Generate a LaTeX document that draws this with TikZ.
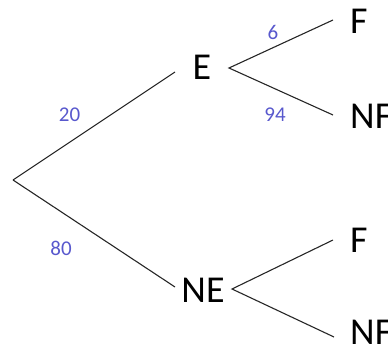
\documentclass[tikz,border=0pt]{standalone}
\usepackage{fontspec}
\setmainfont{Carlito}
\definecolor{lbl}{RGB}{88,88,205}
\begin{document}
\begin{tikzpicture}[x=1pt,y=1pt,
  big/.style={font=\fontsize{38}{40}\selectfont, inner sep=0pt, text=black},
  num/.style={font=\fontsize{21}{23}\selectfont, inner sep=0pt, text=lbl},
  br/.style={draw=black!85, line width=1.1pt}]
\useasboundingbox (0,0) rectangle (388,349);
\clip (0,0) rectangle (388,349);
% named points
\coordinate (root) at (13,169);
\coordinate (Ein) at (175,277);
\coordinate (Eout) at (229,281);
\coordinate (F1in) at (333,329);
\coordinate (NF1in) at (333,234);
\coordinate (NEin) at (175,62);
\coordinate (NEout) at (232,60);
\coordinate (F2in) at (333,109);
\coordinate (NF2in) at (334,12);
% texts
\node[big] (E) at (202,281.5) {E};
\node[big] (NE) at (203,58.5) {NE};
\node[big, anchor=west] (F1) at (350,327.5) {F};
\node[big, anchor=west] (NF1) at (350,232.5) {NF};
\node[big, anchor=west] (F2) at (350,108.5) {F};
\node[big, anchor=west] (NF2) at (350,16.5) {NF};
% branches
\draw[br] (root) -- (Ein);
\draw[br] (root) -- (NEin);
\draw[br] (F1in) -- (Eout) -- (NF1in);
\draw[br] (F2in) -- (NEout) -- (NF2in);
% labels
\node[num] (l6) at (273,317) {6};
\node[num] (l94) at (275,234) {94};
\node[num] (l20) at (69.5,234) {20};
\node[num] (l80) at (61,101) {80};
\end{tikzpicture}
\end{document}
